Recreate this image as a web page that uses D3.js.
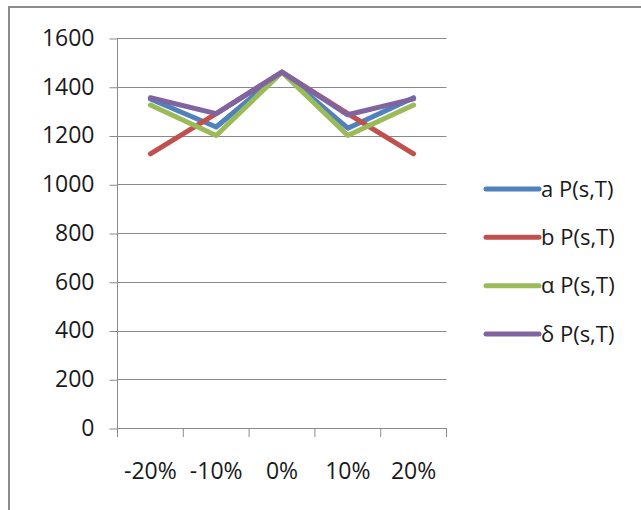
<!DOCTYPE html>
<html><head><meta charset="utf-8">
<script src="https://cdn.jsdelivr.net/npm/d3@7"></script>
<style>
html,body{margin:0;padding:0;background:#fff;}
svg{display:block;}
text{font-family:"Open Sans",sans-serif;fill:#1a1a1a;}
</style></head>
<body><svg id="c" width="641" height="510"></svg>
<script>
const categories = ["-20%", "-10%", "0%", "10%", "20%"];
const seriesNames = ["a P(s,T)", "b P(s,T)", "α P(s,T)", "δ P(s,T)"];
const seriesA = [1350, 1235, 1460, 1230, 1355];
const seriesB = [1125, 1290, 1460, 1290, 1125];
const seriesAlpha = [1325, 1200, 1460, 1200, 1325];
const seriesDelta = [1355, 1290, 1460, 1285, 1350];
const yTicks = [0, 200, 400, 600, 800, 1000, 1200, 1400, 1600];
const colors = ["#4F81BD", "#C0504D", "#9BBB59", "#8064A2"];

(function () {
const allSeries = [seriesA, seriesB, seriesAlpha, seriesDelta];
const svg = d3.select("#c");

// outer frame
svg.append("rect").attr("x", 9).attr("y", 7).attr("width", 700).attr("height", 600)
  .attr("fill", "none").attr("stroke", "#8c8c8c").attr("stroke-width", 2);

const pLeft = 117.5, pRight = 446.5, pTop = 38, pBottom = 428;
const x = d3.scaleBand().domain(categories).range([pLeft, pRight]).paddingInner(0).paddingOuter(0);
const y = d3.scaleLinear().domain([0, 1600]).range([pBottom, pTop]);

const gridColor = "#8a8a8a";
svg.append("g").selectAll("line").data(yTicks.filter(d => d > 0)).join("line")
  .attr("x1", pLeft).attr("x2", pRight)
  .attr("y1", d => Math.round(y(d)) + 0.5).attr("y2", d => Math.round(y(d)) + 0.5)
  .attr("stroke", gridColor).attr("stroke-width", 1);

// y axis
const yAxis = d3.axisLeft(y).tickValues(yTicks).tickSize(8).tickPadding(15).tickFormat(d3.format("d"));
const gy = svg.append("g").attr("transform", `translate(${pLeft},0)`).call(yAxis);
gy.select(".domain").remove();
gy.selectAll(".tick line").attr("stroke", gridColor).attr("transform", "translate(0,0.5)");
gy.selectAll(".tick text").attr("font-size", 23).attr("font-family", "Open Sans").attr("fill", "#1a1a1a");
svg.append("line").attr("x1", pLeft).attr("x2", pLeft).attr("y1", pTop).attr("y2", pBottom + 9)
  .attr("stroke", gridColor);

// x axis
const xAxis = d3.axisBottom(x).tickSize(0).tickPadding(34);
const gx = svg.append("g").attr("transform", `translate(0,${pBottom + 0.5})`).call(xAxis);
gx.select(".domain").remove();
gx.selectAll(".tick line").remove();
gx.selectAll(".tick text").attr("font-size", 23).attr("font-family", "Open Sans").attr("fill", "#1a1a1a");
svg.append("line").attr("x1", pLeft).attr("x2", pRight).attr("y1", pBottom + 0.5).attr("y2", pBottom + 0.5)
  .attr("stroke", gridColor);
const xTickPos = categories.map(c => x(c) + x.bandwidth());
svg.append("g").selectAll("line").data(xTickPos).join("line")
  .attr("x1", d => d).attr("x2", d => d).attr("y1", pBottom).attr("y2", pBottom + 9)
  .attr("stroke", gridColor);

// lines
const line = d3.line().x((d, i) => x(categories[i]) + x.bandwidth() / 2).y(d => y(d));
allSeries.forEach((s, k) => {
  svg.append("path").datum(s).attr("d", line).attr("fill", "none")
    .attr("stroke", colors[k]).attr("stroke-width", 5)
    .attr("stroke-linejoin", "round").attr("stroke-linecap", "round");
});

// legend
const legendY = d3.scalePoint().domain(seriesNames).range([189, 334]);
const lg = svg.append("g");
seriesNames.forEach((n, k) => {
  const yy = legendY(n);
  lg.append("line").attr("x1", 486).attr("x2", 539).attr("y1", yy).attr("y2", yy)
    .attr("stroke", colors[k]).attr("stroke-width", 5).attr("stroke-linecap", "round");
  lg.append("text").attr("x", 541).attr("y", yy).attr("dy", "0.35em")
    .attr("font-size", 22).text(n);
});
})();
</script></body></html>
